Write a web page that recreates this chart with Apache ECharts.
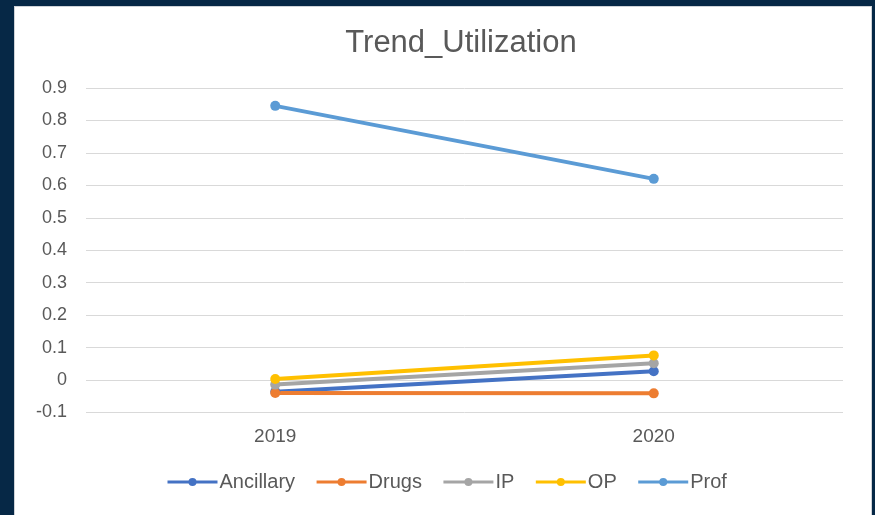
<!DOCTYPE html>
<html>
<head>
<meta charset="utf-8">
<script src="https://cdn.jsdelivr.net/npm/echarts@6/dist/echarts.min.js"></script>
<style>
  html, body { margin: 0; padding: 0; background: #062846; }
  #panel { position: absolute; left: 14px; top: 6px; width: 858px; height: 512px;
           background: #fff; border: 1px solid #cfd3d8; box-sizing: border-box; }
  #chart { position: absolute; left: 0; top: 0; width: 875px; height: 515px; }
</style>
</head>
<body>
<div id="panel"></div>
<div id="chart"></div>
<script>
// values
var years = ['2019', '2020']
var ancillary = [-0.036, 0.027]
var drugs = [-0.040, -0.041]
var ip = [-0.014, 0.052]
var op = [0.003, 0.076]
var prof = [0.845, 0.620]

var names = ['Ancillary', 'Drugs', 'IP', 'OP', 'Prof']
var values = [ancillary, drugs, ip, op, prof]
var colors = ['#4472C4', '#ED7D31', '#A5A5A5', '#FFC000', '#5B9BD5']

var font = '"Liberation Sans", Arial, Helvetica, sans-serif'
var textColor = '#595959'

var myChart = echarts.init(document.getElementById('chart'))

var series = names.map(function (n, i) {
    return {
        name: n,
        type: 'line',
        data: values[i],
        symbol: 'circle',
        symbolSize: 10,
        color: colors[i],
        lineStyle: { width: 4, color: colors[i] },
        itemStyle: { color: colors[i] }
    }
})

var option = {
    backgroundColor: 'transparent',
    animation: false,
    title: {
        text: 'Trend_Utilization',
        left: 456,
        textAlign: 'center',
        top: 23,
        textStyle: { fontFamily: font, fontSize: 31, fontWeight: 'normal', color: textColor }
    },
    legend: {
        data: names,
        left: 161,
        top: 467,
        itemWidth: 50,
        itemHeight: 10,
        itemGap: 20,
        lineStyle: { width: 3 },
        textStyle: { fontFamily: font, fontSize: 20, color: textColor, padding: [0, 0, 0, -3] }
    },
    grid: { left: 86, right: 32, top: 88, bottom: 102.5 },
    xAxis: {
        type: 'category',
        data: years,
        boundaryGap: true,
        axisLine: { show: false },
        axisTick: { show: false },
        axisLabel: { fontFamily: font, fontSize: 19, color: textColor, margin: 15 }
    },
    yAxis: {
        type: 'value',
        min: -0.1,
        max: 0.9,
        interval: 0.1,
        axisLine: { show: false },
        axisTick: { show: false },
        axisLabel: {
            fontFamily: font, fontSize: 18, color: textColor, margin: 19,
            formatter: function (v) { return String(Math.round(v * 10) / 10) }
        },
        splitLine: { lineStyle: { color: '#d9d9d9', width: 1 } }
    },
    series: series
}

myChart.setOption(option)
</script>
</body>
</html>
